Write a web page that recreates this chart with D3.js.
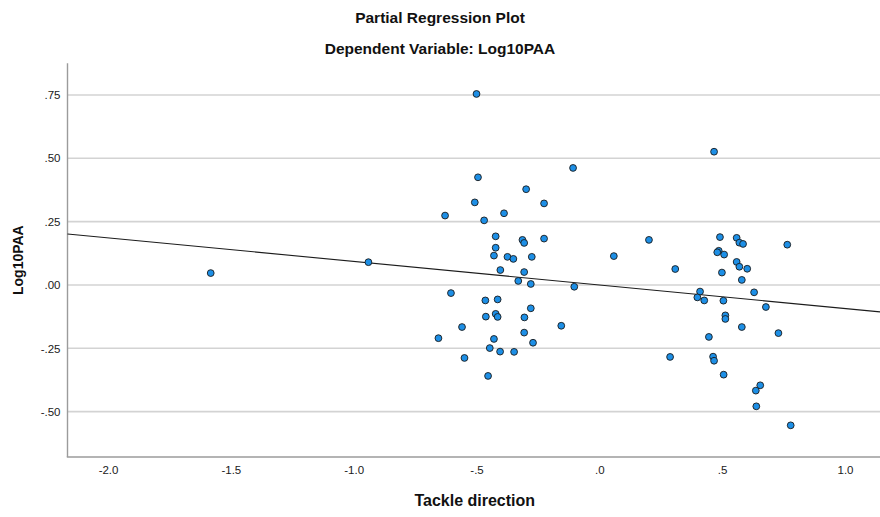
<!DOCTYPE html>
<html>
<head>
<meta charset="utf-8">
<script src="https://cdn.jsdelivr.net/npm/d3@7"></script>
<style>
  html, body { margin: 0; padding: 0; background: #fff; }
  svg { display: block; font-family: "Liberation Sans", Arial, sans-serif; }
</style>
</head>
<body>
<svg id="chart" width="880" height="517"></svg>
<script>
// ---- Data (partial residuals) ----
const tackleDirection = [
  -0.500, -0.107, -0.494, -0.298, -0.507, -0.225, -0.628, -0.388, -0.469, -0.422,
  -0.313, -0.306, -0.225, -0.422, -0.429, -0.374, -0.350, -0.275, 0.059, -0.403,
  -0.306, -0.330, -0.279, -0.102, -0.604, -0.464, -0.414, -0.279, -0.462, -0.422,
  -0.414, -0.305, -0.559, -0.155, -0.306, -0.655, -0.429, -0.270, -0.446, -0.404,
  -0.347, -0.549, -0.453, 0.467, 0.491, 0.559, 0.202, 0.570, 0.585, 0.765,
  0.486, 0.480, 0.508, 0.559, 0.570, 0.602, 0.309, 0.499, 0.580, 0.410,
  0.630, 0.399, 0.427, 0.505, 0.678, 0.513, 0.513, 0.580, 0.729, 0.446,
  0.288, 0.463, 0.467, 0.506, 0.655, 0.637, 0.639, 0.779, -1.582, -0.940
];
const log10PAA = [
  0.754, 0.462, 0.425, 0.378, 0.326, 0.322, 0.274, 0.283, 0.255, 0.192,
  0.178, 0.166, 0.183, 0.147, 0.116, 0.111, 0.103, 0.111, 0.114, 0.059,
  0.051, 0.016, 0.004, -0.007, -0.032, -0.061, -0.057, -0.092, -0.125, -0.114,
  -0.126, -0.128, -0.166, -0.161, -0.188, -0.210, -0.213, -0.228, -0.249, -0.263,
  -0.264, -0.288, -0.359, 0.526, 0.189, 0.186, 0.178, 0.167, 0.162, 0.159,
  0.135, 0.129, 0.120, 0.091, 0.072, 0.064, 0.063, 0.049, 0.020, -0.026,
  -0.029, -0.049, -0.061, -0.062, -0.087, -0.120, -0.134, -0.166, -0.190, -0.205,
  -0.284, -0.283, -0.299, -0.354, -0.396, -0.417, -0.479, -0.554, 0.047, 0.090
];
// fitted line: intercept, slope
const fitCoefficients = [0.0, -0.093];

const xTickValues = [-2.0, -1.5, -1.0, -0.5, 0.0, 0.5, 1.0];
const xTickLabels = ["-2.0", "-1.5", "-1.0", "-.5", ".0", ".5", "1.0"];
const yTickValues = [0.75, 0.50, 0.25, 0.00, -0.25, -0.50];
const yTickLabels = [".75", ".50", ".25", ".00", "-.25", "-.50"];

const titleText = "Partial Regression Plot";
const subtitleText = "Dependent Variable: Log10PAA";
const xTitle = "Tackle direction";
const yTitle = "Log10PAA";

// ---- Layout ----
const svg = d3.select("#chart");
const plot = { left: 67.5, right: 880, top: 63.3, bottom: 457 };

const x = d3.scaleLinear().domain([-2.165, 1.1425]).range([plot.left, plot.right]);
const y = d3.scaleLinear().domain([-0.679, 0.875]).range([plot.bottom, plot.top]);

// gridlines
svg.append("g").selectAll("line")
  .data(yTickValues)
  .join("line")
  .attr("x1", plot.left).attr("x2", plot.right)
  .attr("y1", d => y(d)).attr("y2", d => y(d))
  .attr("stroke", "#d3d3d3").attr("stroke-width", 1.6);

// axes lines
svg.append("line")
  .attr("x1", plot.left).attr("x2", plot.left)
  .attr("y1", plot.top).attr("y2", plot.bottom)
  .attr("stroke", "#9b9b9b").attr("stroke-width", 1.4);
svg.append("line")
  .attr("x1", plot.left - 0.7).attr("x2", plot.right)
  .attr("y1", plot.bottom).attr("y2", plot.bottom)
  .attr("stroke", "#9b9b9b").attr("stroke-width", 1.4);

// axis tick labels via d3 axes (no tick lines, no domain)
const xAxis = d3.axisBottom(x).tickValues(xTickValues)
  .tickFormat((d, i) => xTickLabels[i]).tickSize(0).tickPadding(9);
const gx = svg.append("g").attr("transform", `translate(0,${plot.bottom})`).call(xAxis);
gx.select(".domain").remove();
gx.selectAll("text").attr("font-size", 11.5).attr("fill", "#1a1a1a")
  .attr("font-family", "Liberation Sans, Arial, sans-serif");

const yAxis = d3.axisLeft(y).tickValues(yTickValues)
  .tickFormat((d, i) => yTickLabels[i]).tickSize(0).tickPadding(7);
const gy = svg.append("g").attr("transform", `translate(${plot.left},0)`).call(yAxis);
gy.select(".domain").remove();
gy.selectAll("text").attr("font-size", 11.5).attr("fill", "#1a1a1a")
  .attr("font-family", "Liberation Sans, Arial, sans-serif");

// regression line
const xd = x.domain();
svg.append("line")
  .attr("x1", x(xd[0])).attr("y1", y(fitCoefficients[0] + fitCoefficients[1] * xd[0]))
  .attr("x2", x(xd[1])).attr("y2", y(fitCoefficients[0] + fitCoefficients[1] * xd[1]))
  .attr("stroke", "#1c1c1c").attr("stroke-width", 1.1);

// points
const points = tackleDirection.map((d, i) => ({ x: d, y: log10PAA[i] }));
svg.append("g").selectAll("circle")
  .data(points)
  .join("circle")
  .attr("cx", d => x(d.x)).attr("cy", d => y(d.y))
  .attr("r", 3.4)
  .attr("fill", "#1d8fe6")
  .attr("stroke", "#1a1a1a").attr("stroke-width", 0.9);

// titles
svg.append("text").attr("x", 440).attr("y", 23)
  .attr("text-anchor", "middle").attr("font-weight", "bold").attr("font-size", 15.5)
  .attr("fill", "#111").text(titleText);
svg.append("text").attr("x", 440).attr("y", 54)
  .attr("text-anchor", "middle").attr("font-weight", "bold").attr("font-size", 15.5)
  .attr("fill", "#111").text(subtitleText);
svg.append("text").attr("x", (plot.left + plot.right) / 2 + 1).attr("y", 506)
  .attr("text-anchor", "middle").attr("font-weight", "bold").attr("font-size", 16)
  .attr("fill", "#111").text(xTitle);
svg.append("text")
  .attr("transform", `translate(23,${(plot.top + plot.bottom) / 2}) rotate(-90)`)
  .attr("text-anchor", "middle").attr("font-weight", "bold").attr("font-size", 14)
  .attr("fill", "#111").text(yTitle);
</script>
</body>
</html>
